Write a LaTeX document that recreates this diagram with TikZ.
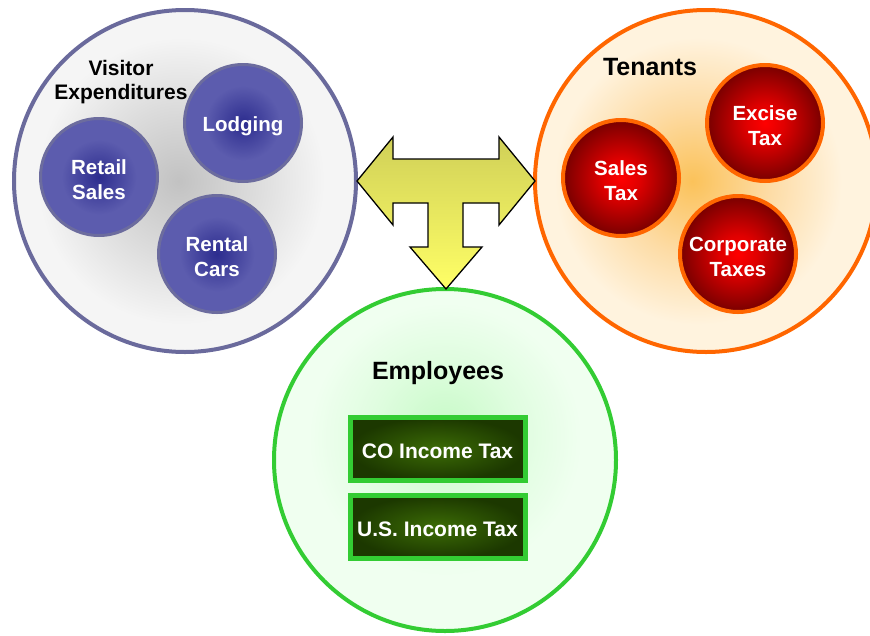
\documentclass[tikz,border=0pt]{standalone}
\usepackage{fontspec}
\setmainfont{Liberation Sans}
\definecolor{visborder}{HTML}{6A6A9C}
\definecolor{visc}{HTML}{C2C2C2}
\definecolor{vism}{HTML}{DCDCDC}
\definecolor{vise}{HTML}{F5F5F5}
\definecolor{purin}{HTML}{2C2C8E}
\definecolor{purout}{HTML}{5C5CAE}
\definecolor{purborder}{HTML}{6C6C9E}
\definecolor{tenborder}{HTML}{FF6600}
\definecolor{tenc}{HTML}{FBC25A}
\definecolor{tenm}{HTML}{FDDCA6}
\definecolor{tene}{HTML}{FFF3DE}
\definecolor{redin}{HTML}{FF0000}
\definecolor{redmid}{HTML}{E00000}
\definecolor{redout}{HTML}{780000}
\definecolor{empborder}{HTML}{33CC33}
\definecolor{empc}{HTML}{C8FAC8}
\definecolor{empm}{HTML}{E0FDE0}
\definecolor{empe}{HTML}{F0FFF0}
\definecolor{boxin}{HTML}{3C6C06}
\definecolor{boxout}{HTML}{1C3800}
\definecolor{arrtop}{HTML}{D0D058}
\definecolor{arrbot}{HTML}{FFFF66}
\pgfdeclareradialshading{visglow}{\pgfpoint{-1bp}{0bp}}{color(0bp)=(visc); color(11bp)=(vism); color(21bp)=(vise); color(25bp)=(vise); color(50bp)=(vise)}
\pgfdeclareradialshading{tenglow}{\pgfpoint{-2bp}{0bp}}{color(0bp)=(tenc); color(11bp)=(tenm); color(21bp)=(tene); color(25bp)=(tene); color(50bp)=(tene)}
\pgfdeclareradialshading{empglow}{\pgfpoint{0bp}{5bp}}{color(0bp)=(empc); color(11bp)=(empm); color(20bp)=(empe); color(25bp)=(empe); color(50bp)=(empe)}
\pgfdeclareradialshading{purglow}{\pgfpoint{0bp}{0bp}}{color(0bp)=(purin); color(16bp)=(purout); color(25bp)=(purout); color(50bp)=(purout)}
\pgfdeclareradialshading{redglow}{\pgfpoint{0bp}{0bp}}{color(0bp)=(redin); color(8bp)=(redmid); color(25bp)=(redout); color(50bp)=(redout)}
\pgfdeclareradialshading{boxglow}{\pgfpoint{0bp}{0bp}}{color(0bp)=(boxin); color(25bp)=(boxout); color(50bp)=(boxout)}
\begin{document}
\begin{tikzpicture}[x=1pt,y=-1pt,
  bigcircle/.style={circle, inner sep=0pt, minimum size=342pt, line width=4pt, shade},
  sublab/.style={align=center, text=white, inner sep=0pt, yshift=-3pt,
     font=\bfseries\fontsize{20.5}{25}\selectfont},
  subcircle/.style={circle, inner sep=0pt, shade},
  purcircle/.style={subcircle, draw=purborder, line width=3pt, minimum size=117pt, shading=purglow},
  redcircle/.style={subcircle, draw=tenborder, line width=4pt, minimum size=116pt, shading=redglow},
  taxbox/.style={rectangle, draw=empborder, line width=5pt, minimum width=175pt, minimum height=63pt,
     inner sep=0pt, shade, shading=boxglow},
  boxlab/.style={text=white, inner sep=0pt, yshift=-2pt, font=\bfseries\fontsize{21}{25}\selectfont},
  header/.style={align=center, text=black, inner sep=0pt},
  bigarrow/.style={draw=black, line width=1.3pt, line join=miter, top color=arrtop, bottom color=arrbot}
]
\useasboundingbox (0,0) rectangle (870,635);

% big circles
\node[bigcircle, draw=visborder, shading=visglow] (vis) at (185,181) {};
\node[bigcircle, draw=tenborder, shading=tenglow] (ten) at (706,181) {};
\node[bigcircle, draw=empborder, shading=empglow] (emp) at (445,460) {};

% headers
\node[header, font=\bfseries\fontsize{21}{24}\selectfont] (vislab) at (121,82) {Visitor\\Expenditures};
\node[header, font=\bfseries\fontsize{25}{28}\selectfont] (tenlab) at (650,67) {Tenants};
\node[header, font=\bfseries\fontsize{25}{28}\selectfont] (emplab) at (438,373) {Employees};

% visitor sub-circles
\node[purcircle, label={[sublab]center:Lodging}] (lodging) at (243,123) {};
\node[purcircle, label={[sublab]center:Retail\\Sales}] (retail) at (99,177) {};
\node[purcircle, label={[sublab]center:Rental\\Cars}] (rental) at (217,254) {};

% tenant sub-circles
\node[redcircle, label={[sublab]center:Excise\\Tax}] (excise) at (765,123) {};
\node[redcircle, label={[sublab]center:Sales\\Tax}] (sales) at (621,178) {};
\node[redcircle, label={[sublab]center:Corporate\\Taxes}] (corp) at (738,254) {};

% employee boxes
\node[taxbox, label={[boxlab]center:CO Income Tax}] (co) at (437.5,449) {};
\node[taxbox, label={[boxlab]center:U.S. Income Tax}] (us) at (437.5,527) {};

% T-shaped three-way arrow
\coordinate (tipL) at (357,181);
\coordinate (tipR) at (535,181);
\coordinate (tipD) at (446,289);
\path[bigarrow] (tipL) -- (393,137) -- (393,159) -- (499,159) -- (499,137) -- (tipR)
  -- (499,225) -- (499,203) -- (463,203) -- (463,247) -- (482,247) -- (tipD)
  -- (410,247) -- (428,247) -- (428,203) -- (393,203) -- (393,225) -- cycle;
\end{tikzpicture}
\end{document}
